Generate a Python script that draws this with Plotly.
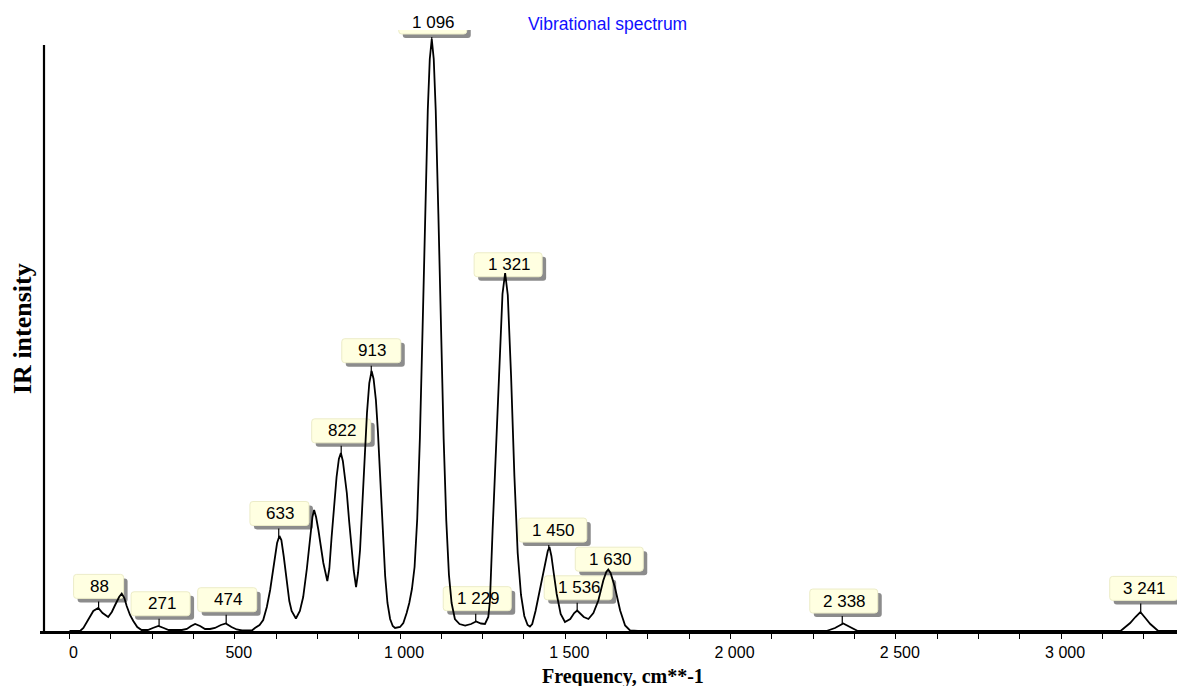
import numpy as np
import plotly.graph_objects as go

# ---------------- data ----------------
freq = [0, 32, 42, 57, 72, 87, 100, 117, 128, 138, 150, 158, 166, 173, 183, 193, 205, 218,
        237, 252, 269, 285, 300, 340, 355, 368, 380, 395, 410, 425, 440, 458, 473, 490, 506,
        522, 552, 561, 575, 586, 597, 607, 615, 622, 628, 635, 641, 648, 657, 665, 672, 685,
        697, 707, 718, 728, 735, 740, 746, 753, 760, 768, 780, 786, 793, 800, 808, 815, 821,
        827, 833, 839, 846, 854, 860, 867, 873, 879, 886, 894, 900, 907, 914, 920, 927, 933,
        940, 947, 955, 962, 970, 978, 985, 1000, 1010, 1020, 1028, 1036, 1044, 1052, 1060,
        1068, 1076, 1084, 1090, 1096, 1102, 1108, 1116, 1124, 1132, 1140, 1148, 1156, 1166,
        1180, 1197, 1215, 1230, 1245, 1257, 1267, 1272, 1280, 1290, 1300, 1310, 1318, 1326,
        1336, 1346, 1356, 1366, 1376, 1386, 1393, 1400, 1410, 1424, 1439, 1447, 1452, 1458,
        1465, 1474, 1486, 1499, 1515, 1527, 1536, 1545, 1556, 1570, 1585, 1600, 1615, 1624,
        1630, 1637, 1650, 1666, 1681, 1696, 1720, 2290, 2316, 2341, 2367, 2385, 3180, 3209,
        3225, 3240, 3255, 3270, 3294, 3380]
intensity = [0, 0, 3, 11, 20, 23, 18, 14, 19, 26, 34, 37.5, 33, 25, 16, 10, 4, 1,
             1, 3, 5, 3, 1, 1, 2, 5, 7, 5, 2, 2, 3, 6, 7.5, 4, 1.5,
             0.5, 0.5, 3, 6, 11, 24, 41, 58, 76, 88, 95, 91, 75, 48, 30, 20, 12.5,
             20, 34, 62, 94, 114, 121, 114, 101, 85, 68, 50, 62, 94, 122, 154, 172, 178,
             170, 156, 138, 110, 81, 60, 44, 58, 81, 125, 181, 218, 248, 260, 252, 231, 200,
             150, 100, 55, 28, 12, 5, 3, 4, 8, 18, 28, 42, 64, 112, 192,
             299, 417, 521, 572, 592, 572, 521, 417, 299, 192, 110, 56, 28, 12,
             7, 5.5, 7, 9.5, 7.5, 7, 14, 30, 100, 185, 270, 337, 358, 336,
             255, 155, 78, 36, 15, 6, 4.5, 7, 20, 43, 66, 80, 84, 75,
             58, 37, 17, 9, 12, 18, 20.5, 18, 14, 12, 18, 30.5, 50.5, 59,
             61.5, 58, 44, 20.5, 5.5, 0.5, 0, 0, 3, 7.5, 3, 0, 0, 8,
             14, 19, 13, 7, 0, 0]

peak_labels = [88, 271, 474, 633, 822, 913, 1096, 1229, 1321, 1450, 1536, 1630, 2338, 3241]
tick_values = [0, 500, 1000, 1500, 2000, 2500, 3000]
tick_labels = ["0", "500", "1 000", "1 500", "2 000", "2 500", "3 000"]

# ---------------- layout / style settings ----------------
WIN_W, WIN_H = 1185, 686
OFF = 8                      # page body margin
W, H = WIN_W - OFF, WIN_H - OFF
L, R, T, B = 40 - OFF, 0, 30 - OFF, 55
PW, PH = W - L - R, H - T - B
X_RANGE = [-89.3, 3375]
Y_RANGE = [0, PH]
label_gap = [10, 10.5, 12, 12.5, 11.5, 10, 5, 11, 4.5, 6.5, 10.7, -1.7, 11, 12]
label_dx = [0, 1.5, 1, 0.7, 0, 0, 1, 1.5, 2, 4, 1, 1, 1.5, 3]
BOX_H = 24
SHADOW = 4
BOX_FILL = "#ffffe1"
SHADOW_FILL = "#8c8c8c"


def px_x(px):
    """window pixel x -> paper fraction"""
    return (px - OFF - L) / PW


def px_y(py):
    """window pixel y -> paper fraction"""
    return (H - B - (py - OFF)) / PH


def fmt(v):
    return f"{v:,}".replace(",", " ")


def rounded(x0, y0, x1, y1, r=3):
    return (f"M {x0+r},{y0} L {x1-r},{y0} Q {x1},{y0} {x1},{y0+r} "
            f"L {x1},{y1-r} Q {x1},{y1} {x1-r},{y1} L {x0+r},{y1} "
            f"Q {x0},{y1} {x0},{y1-r} L {x0},{y0+r} Q {x0},{y0} {x0+r},{y0} Z")


fig = go.Figure()
fig.add_trace(go.Scatter(x=freq, y=intensity, mode="lines",
                         line=dict(color="black", width=1.8), hoverinfo="skip"))

shapes = []
annotations = []
for f, gap, dx in zip(peak_labels, label_gap, label_dx):
    h = float(np.interp(f, freq, intensity))
    text = fmt(f)
    ndig = len(text)
    bw = 50 if ndig <= 2 else (59 if ndig == 3 else 68)
    x0, x1 = dx - bw / 2, dx + bw / 2
    y0, y1 = gap, gap + BOX_H
    common = dict(xref="x", yref="y", xsizemode="pixel", ysizemode="pixel",
                  xanchor=f, yanchor=h)
    shapes.append(dict(type="path", layer="below", line=dict(width=0),
                       fillcolor=SHADOW_FILL,
                       path=rounded(x0 + SHADOW, y0 - SHADOW, x1 + SHADOW, y1 - SHADOW),
                       **common))
    shapes.append(dict(type="path", layer="below", line=dict(color="#ececc8", width=1),
                       fillcolor=BOX_FILL, path=rounded(x0, y0, x1, y1), **common))
    if gap > 0:
        shapes.append(dict(type="line", layer="above", line=dict(color="black", width=1.2),
                           x0=0, x1=0, y0=0, y1=gap - SHADOW + 1, **common))
    annotations.append(dict(x=f, y=h, xref="x", yref="y", text=text, showarrow=False,
                            xshift=dx + 1, yshift=gap + BOX_H / 2,
                            font=dict(family="Liberation Sans, Arial", size=17, color="black"),
                            xanchor="center", yanchor="middle"))

# y-axis line
shapes.append(dict(type="line", xref="paper", yref="paper", x0=px_x(44), x1=px_x(44),
                   y0=0, y1=px_y(45), line=dict(color="black", width=2.2)))

annotations += [
    dict(text="Vibrational spectrum", xref="paper", yref="paper", x=px_x(607), y=px_y(24),
         showarrow=False, xanchor="center", yanchor="middle",
         font=dict(family="Liberation Sans, Arial", size=17.5, color="#1010ff")),
    dict(text="<b>Frequency, cm**-1</b>", xref="paper", yref="paper", x=px_x(623),
         y=px_y(676), showarrow=False, xanchor="center", yanchor="middle",
         font=dict(family="Liberation Serif, Times New Roman", size=20, color="black")),
    dict(text="<b>IR intensity</b>", xref="paper", yref="paper", x=px_x(22), y=px_y(329),
         showarrow=False, xanchor="center", yanchor="middle", textangle=-90,
         font=dict(family="Liberation Serif, Times New Roman", size=26, color="black")),
]

fig.update_layout(
    width=W, height=H, margin=dict(l=L, r=R, t=T, b=B, pad=0),
    paper_bgcolor="white", plot_bgcolor="white", showlegend=False,
    shapes=shapes, annotations=annotations,
    xaxis=dict(range=X_RANGE, showgrid=False, zeroline=False, showline=True,
               linecolor="black", linewidth=2.5, ticks="outside", ticklen=5,
               tickwidth=1.3, tickcolor="black", tickvals=tick_values,
               ticktext=tick_labels, ticklabelstandoff=0, ticklabelshift=4,
               tickfont=dict(family="Liberation Sans, Arial", size=16, color="black"),
               minor=dict(dtick=125, tick0=0, ticks="outside", ticklen=5,
                          tickwidth=1.3, tickcolor="black")),
    yaxis=dict(range=Y_RANGE, showgrid=False, zeroline=False, showline=False,
               showticklabels=False, ticks=""),
)

fig.write_html("out.html")
